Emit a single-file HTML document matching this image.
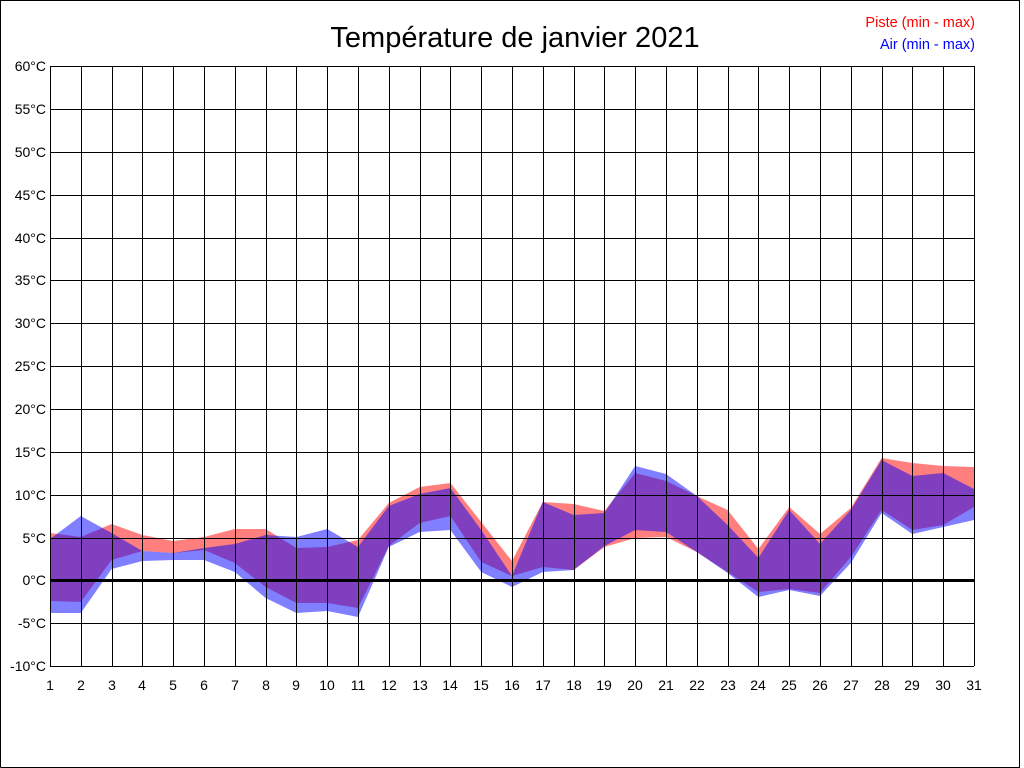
<!DOCTYPE html>
<html><head><meta charset="utf-8"><style>
html,body{margin:0;padding:0;background:#fff;width:1024px;height:768px;overflow:hidden;}
svg{display:block;font-family:"Liberation Sans",Arial,sans-serif;}
</style></head><body>
<svg width="1024" height="768" viewBox="0 0 1024 768" xmlns="http://www.w3.org/2000/svg">
<rect x="0" y="0" width="1024" height="768" fill="#fff"/>
<path d="M0.5,767.5 V0.5 H1019.5 V767.5 H0.5" fill="none" stroke="#000"/>
<text x="515" y="47" font-size="29" text-anchor="middle" fill="#000">Température de janvier 2021</text>
<text x="975" y="27" font-size="14.5" text-anchor="end" fill="#ff0000">Piste (min - max)</text>
<text x="975" y="49" font-size="14.5" text-anchor="end" fill="#0000ff">Air (min - max)</text>

<polygon fill="rgba(255,0,0,0.5)" points="50,533 80.8,537 111.6,524 142.4,535 173.2,541 204,537 234.8,529 265.6,529 296.4,548 327.2,547 358,540 388.8,503 419.6,487 450.4,483 481.2,522 512,561 542.8,502 573.6,504 604.4,511 635.2,473 666,481 696.8,496 727.6,510 758.4,549 789.2,507 820,534 850.8,508 881.6,458 912.4,463 943.2,466 974,467 974,507 943.2,525 912.4,530 881.6,510 850.8,557 820,593 789.2,589 758.4,592 727.6,572 696.8,552 666,537 635.2,538 604.4,547 573.6,570 542.8,567 512,576 481.2,562 450.4,516 419.6,523 388.8,546 358,608 327.2,603 296.4,603 265.6,587 234.8,563 204,550 173.2,553 142.4,551 111.6,560 80.8,602 50,601"/>
<polygon fill="rgba(0,0,255,0.5)" points="50,539 80.8,516 111.6,533 142.4,551 173.2,553 204,548 234.8,544 265.6,535 296.4,537 327.2,529 358,547 388.8,506 419.6,494 450.4,488 481.2,530 512,576 542.8,502 573.6,515 604.4,513 635.2,466 666,474 696.8,496 727.6,525 758.4,558 789.2,510 820,544 850.8,510 881.6,460 912.4,476 943.2,473 974,489 974,520 943.2,527 912.4,534 881.6,513 850.8,563 820,596 789.2,590 758.4,597 727.6,573 696.8,552 666,532 635.2,530 604.4,546 573.6,570 542.8,572 512,587 481.2,572 450.4,530 419.6,532 388.8,547 358,617 327.2,611 296.4,613 265.6,598 234.8,572 204,560 173.2,560 142.4,561 111.6,569 80.8,613 50,613"/>

<g stroke="#000" stroke-width="1" shape-rendering="crispEdges">
<line x1="50" y1="66.5" x2="974" y2="66.5"/><line x1="50" y1="109.5" x2="974" y2="109.5"/>
<line x1="50" y1="152.5" x2="974" y2="152.5"/><line x1="50" y1="195.5" x2="974" y2="195.5"/>
<line x1="50" y1="238.5" x2="974" y2="238.5"/><line x1="50" y1="280.5" x2="974" y2="280.5"/>
<line x1="50" y1="323.5" x2="974" y2="323.5"/><line x1="50" y1="366.5" x2="974" y2="366.5"/>
<line x1="50" y1="409.5" x2="974" y2="409.5"/><line x1="50" y1="452.5" x2="974" y2="452.5"/>
<line x1="50" y1="495.5" x2="974" y2="495.5"/><line x1="50" y1="538.5" x2="974" y2="538.5"/>
<line x1="50" y1="623.5" x2="974" y2="623.5"/><line x1="50" y1="666.5" x2="974" y2="666.5"/>
<line x1="50.5" y1="66" x2="50.5" y2="666"/><line x1="81.5" y1="66" x2="81.5" y2="666"/>
<line x1="112.5" y1="66" x2="112.5" y2="666"/><line x1="142.5" y1="66" x2="142.5" y2="666"/>
<line x1="173.5" y1="66" x2="173.5" y2="666"/><line x1="204.5" y1="66" x2="204.5" y2="666"/>
<line x1="235.5" y1="66" x2="235.5" y2="666"/><line x1="266.5" y1="66" x2="266.5" y2="666"/>
<line x1="296.5" y1="66" x2="296.5" y2="666"/><line x1="327.5" y1="66" x2="327.5" y2="666"/>
<line x1="358.5" y1="66" x2="358.5" y2="666"/><line x1="389.5" y1="66" x2="389.5" y2="666"/>
<line x1="420.5" y1="66" x2="420.5" y2="666"/><line x1="450.5" y1="66" x2="450.5" y2="666"/>
<line x1="481.5" y1="66" x2="481.5" y2="666"/><line x1="512.5" y1="66" x2="512.5" y2="666"/>
<line x1="543.5" y1="66" x2="543.5" y2="666"/><line x1="574.5" y1="66" x2="574.5" y2="666"/>
<line x1="604.5" y1="66" x2="604.5" y2="666"/><line x1="635.5" y1="66" x2="635.5" y2="666"/>
<line x1="666.5" y1="66" x2="666.5" y2="666"/><line x1="697.5" y1="66" x2="697.5" y2="666"/>
<line x1="728.5" y1="66" x2="728.5" y2="666"/><line x1="758.5" y1="66" x2="758.5" y2="666"/>
<line x1="789.5" y1="66" x2="789.5" y2="666"/><line x1="820.5" y1="66" x2="820.5" y2="666"/>
<line x1="851.5" y1="66" x2="851.5" y2="666"/><line x1="882.5" y1="66" x2="882.5" y2="666"/>
<line x1="912.5" y1="66" x2="912.5" y2="666"/><line x1="943.5" y1="66" x2="943.5" y2="666"/>
<line x1="974.5" y1="66" x2="974.5" y2="666"/>
</g>
<rect x="50" y="579" width="925" height="3" fill="#000"/>

<g font-size="14" fill="#000" text-anchor="end">
<text x="46" y="71">60°C</text><text x="46" y="114">55°C</text><text x="46" y="157">50°C</text>
<text x="46" y="200">45°C</text><text x="46" y="243">40°C</text><text x="46" y="285">35°C</text>
<text x="46" y="328">30°C</text><text x="46" y="371">25°C</text><text x="46" y="414">20°C</text>
<text x="46" y="457">15°C</text><text x="46" y="500">10°C</text><text x="46" y="543">5°C</text>
<text x="46" y="585">0°C</text><text x="46" y="628">-5°C</text><text x="46" y="671">-10°C</text>
</g>
<g font-size="14" fill="#000" text-anchor="middle">
<text x="50" y="690">1</text><text x="81" y="690">2</text><text x="112" y="690">3</text>
<text x="142" y="690">4</text><text x="173" y="690">5</text><text x="204" y="690">6</text>
<text x="235" y="690">7</text><text x="266" y="690">8</text><text x="296" y="690">9</text>
<text x="327" y="690">10</text><text x="358" y="690">11</text><text x="389" y="690">12</text>
<text x="420" y="690">13</text><text x="450" y="690">14</text><text x="481" y="690">15</text>
<text x="512" y="690">16</text><text x="543" y="690">17</text><text x="574" y="690">18</text>
<text x="604" y="690">19</text><text x="635" y="690">20</text><text x="666" y="690">21</text>
<text x="697" y="690">22</text><text x="728" y="690">23</text><text x="758" y="690">24</text>
<text x="789" y="690">25</text><text x="820" y="690">26</text><text x="851" y="690">27</text>
<text x="882" y="690">28</text><text x="912" y="690">29</text><text x="943" y="690">30</text>
<text x="974" y="690">31</text>
</g>
</svg>
</body></html>
